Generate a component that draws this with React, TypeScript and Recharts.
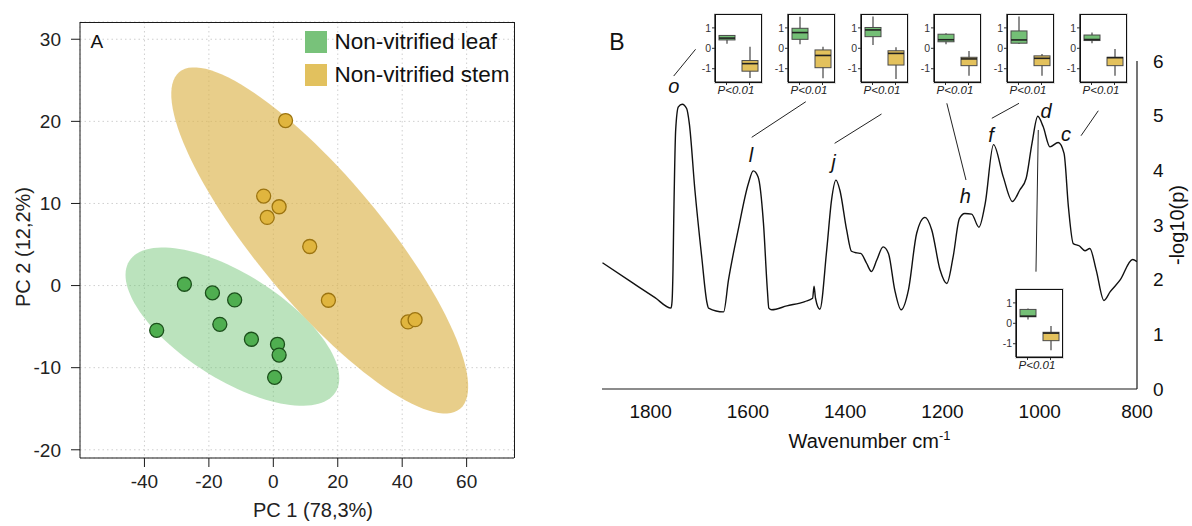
import React from 'react';
import {
  ScatterChart, Scatter, XAxis, YAxis, CartesianGrid, LineChart, Line,
  ReferenceLine, ReferenceDot, ComposedChart, Bar, Label,
} from 'recharts';

const FONT = '"Liberation Sans", Arial, Helvetica, sans-serif';

// ---------------- Panel A data ----------------
const groupNames = ['Non-vitrified leaf', 'Non-vitrified stem'];
const legendColors = ['#78c27a', '#e2c15e'];
const leafPC1 = [-27.6, -18.9, -12.0, -36.2, -16.6, -6.8, 1.3, 1.8, 0.4];
const leafPC2 = [0.16, -0.89, -1.75, -5.45, -4.72, -6.54, -7.15, -8.46, -11.18];
const stemPC1 = [3.8, -3.0, 1.8, -1.9, 11.3, 17.1, 41.8, 44.0];
const stemPC2 = [20.1, 10.9, 9.6, 8.3, 4.76, -1.79, -4.43, -4.15];
const pc1Ticks = [-40, -20, 0, 20, 40, 60];
const pc2Ticks = [-20, -10, 0, 10, 20, 30];
// confidence ellipses: [centerX, centerY, majorDx, majorDy, minorDx, minorDy] in data units
const leafEllipseParams = [-12.7, -5.0, 32.0, -8.0, -8.75, -5.38];
const stemEllipseParams = [14.4, 5.5, 43.6, -20.5, -14.9, -4.9];

// ---------------- Panel B data ----------------
const spectrumWn = [1899, 1840, 1791, 1758, 1756, 1754, 1752.6, 1748.5, 1743, 1735, 1726, 1720.5, 1709, 1695, 1684, 1681, 1650, 1640, 1620, 1599, 1589, 1579, 1568, 1560, 1557, 1551, 1520, 1483, 1467, 1464, 1461, 1452, 1438, 1428, 1419, 1411, 1397, 1387, 1376, 1368, 1356, 1346, 1335, 1322, 1311, 1298, 1285, 1270, 1253, 1236, 1222, 1205, 1191, 1178, 1165, 1154, 1140, 1125, 1112, 1095, 1075, 1056, 1041, 1028, 1016, 1004, 993, 979, 962, 950, 941, 931, 919, 907, 897, 884, 868, 855, 835, 809, 800];
const spectrumLogP = [2.31, 1.96, 1.67, 1.48, 1.6, 2.2, 3.03, 4.74, 5.16, 5.21, 5.13, 4.86, 3.64, 2.42, 1.57, 1.48, 1.41, 1.99, 2.91, 3.76, 3.99, 3.88, 3.03, 1.81, 1.48, 1.45, 1.52, 1.60, 1.66, 1.88, 1.66, 1.46, 2.54, 3.46, 3.82, 3.64, 2.91, 2.52, 2.49, 2.48, 2.30, 2.15, 2.36, 2.60, 2.48, 1.81, 1.45, 1.81, 2.85, 3.14, 2.91, 2.18, 1.93, 2.42, 3.12, 3.21, 3.20, 2.96, 3.40, 4.47, 3.88, 3.43, 3.64, 3.85, 4.49, 4.99, 4.80, 4.43, 4.51, 4.31, 3.33, 2.66, 2.62, 2.53, 2.57, 2.18, 1.62, 1.78, 1.99, 2.37, 2.33];
const wnTicks = [1800, 1600, 1400, 1200, 1000, 800];
const logPTicks = [0, 1, 2, 3, 4, 5, 6];

const peakLetters = ['o', 'l', 'j', 'h', 'f', 'd', 'c'];
const peakLabelWn = [1752.6, 1593.6, 1424, 1153, 1100, 987, 946];
const peakLabelP = [5.54, 4.28, 4.16, 3.53, 4.65, 5.09, 4.66];

const connectorWn1 = [1752.6, 1592.2, 1421.7, 1191, 1098.5, 1003, 879.6];
const connectorP1 = [5.725, 4.604, 4.494, 5.226, 4.952, 4.738, 5.09];
const connectorWn2 = [1707.6, 1481, 1325.3, 1151.6, 1042.6, 1007.7, 915.1];
const connectorP2 = [6.214, 5.255, 5.03, 3.823, 5.226, 2.146, 4.633];

// inset boxplots: [min, q1, median, q3, max]
const boxGroups = ['leaf', 'stem'];
const boxColors = ['#74bf76', '#e3c15c'];
const insetLeafStats = [
  [0.22, 0.41, 0.5, 0.63, 0.63],
  [0.2, 0.44, 0.77, 0.98, 1.55],
  [0.16, 0.57, 0.9, 1.02, 1.56],
  [0.2, 0.32, 0.42, 0.69, 0.74],
  [0.21, 0.25, 0.41, 0.85, 1.56],
  [0.25, 0.38, 0.43, 0.65, 0.77],
  [0.19, 0.32, 0.35, 0.68, 0.73],
];
const insetStemStats = [
  [-1.45, -1.12, -0.75, -0.6, 0.08],
  [-1.47, -0.95, -0.35, -0.08, 0.08],
  [-1.5, -0.82, -0.25, -0.12, 0.05],
  [-1.35, -0.85, -0.52, -0.44, -0.13],
  [-1.35, -0.85, -0.49, -0.37, -0.28],
  [-1.35, -0.85, -0.46, -0.44, -0.03],
  [-1.32, -0.85, -0.48, -0.44, -0.13],
];
const insetPLabel = 'P<0.01';
const insetTicks = [-1, 0, 1];
const insetDomain = [-1.65, 1.68];
// layout of the inset boxes (page px)
const insetLeft = [715, 788, 861, 934, 1007, 1080, 1016];
const insetTop = [14, 14, 14, 14, 14, 14, 289];

// ---------------- derived ----------------
const leafPoints = leafPC1.map((x, i) => ({ x, y: leafPC2[i] }));
const stemPoints = stemPC1.map((x, i) => ({ x, y: stemPC2[i] }));
const ellipsePath = (p: number[]) =>
  Array.from({ length: 121 }, (_, i) => {
    const t = (i / 120) * Math.PI * 2;
    return { x: p[0] + p[2] * Math.cos(t) + p[4] * Math.sin(t), y: p[1] + p[3] * Math.cos(t) + p[5] * Math.sin(t) };
  });
const leafEllipse = ellipsePath(leafEllipseParams);
const stemEllipse = ellipsePath(stemEllipseParams);
const spectrum = spectrumWn.map((wn, i) => ({ wn, p: spectrumLogP[i] }));

const AXIS_C = '#1a1a1a';

const PcXTitle = (props: any) => {
  const vb = props.viewBox;
  return (
    <text x={vb.x + vb.width / 2 + 16} y={vb.y + 58.5} textAnchor="middle" fontSize={20} fontFamily={FONT} fill="#222">
      PC 1 (78,3%)
    </text>
  );
};
const PcYTitle = (props: any) => {
  const vb = props.viewBox;
  const x = vb.x + 30;
  const y = vb.y + vb.height / 2 + 7;
  return (
    <text x={x} y={y} transform={`rotate(-90 ${x} ${y})`} textAnchor="middle" fontSize={20} fontFamily={FONT} fill="#222">
      PC 2 (12,2%)
    </text>
  );
};
const WaveTitle = (props: any) => {
  const vb = props.viewBox;
  return (
    <text x={vb.x + vb.width / 2} y={vb.y + 59} textAnchor="middle" fontSize={20} fontFamily={FONT} fill="#111">
      Wavenumber cm<tspan dy={-8} fontSize={13}>-1</tspan>
    </text>
  );
};
const LogPTitle = (props: any) => {
  const vb = props.viewBox;
  const x = vb.x + 47;
  const y = vb.y + vb.height / 2;
  return (
    <text x={x} y={y} transform={`rotate(-90 ${x} ${y})`} textAnchor="middle" fontSize={20} fontFamily={FONT} fill="#111">
      -log10(p)
    </text>
  );
};
const PTitle = (props: any) => {
  const vb = props.viewBox;
  return (
    <text x={vb.x + vb.width / 2 - 2} y={vb.y + 12} textAnchor="middle" fontSize={11.5} fontStyle="italic" fontFamily={FONT} fill="#222">
      {insetPLabel}
    </text>
  );
};

const BoxShape = (props: any) => {
  const { x, y, width, height, payload, index } = props;
  const st: number[] = payload.stats;
  const y0 = Math.min(y, y + height);
  const y1 = Math.max(y, y + height);
  const lo = st[0];
  const hi = st[4];
  const pix = (v: number) => (hi === lo ? y0 : y0 + ((hi - v) / (hi - lo)) * (y1 - y0));
  const cx = x + width / 2;
  return (
    <g>
      <line x1={cx} x2={cx} y1={y0} y2={y1} stroke="#333" strokeWidth={1.1} />
      <rect x={x} y={pix(st[3])} width={width} height={Math.max(1, pix(st[1]) - pix(st[3]))} fill={boxColors[index]} stroke="#4a4a4a" strokeWidth={1} />
      <line x1={x} x2={x + width} y1={pix(st[2])} y2={pix(st[2])} stroke="#222" strokeWidth={1.6} />
    </g>
  );
};

const Inset = ({ k }: { k: number }) => {
  const data = boxGroups.map((g, i) => {
    const st = i === 0 ? insetLeafStats[k] : insetStemStats[k];
    return { g, range: [st[0], st[4]], stats: st };
  });
  return (
    <>
      <div style={{ position: 'absolute', left: insetLeft[k] - 14, top: insetTop[k] - 1 }}>
        <ComposedChart width={61} height={91} data={data} margin={{ top: 1, right: 1, bottom: 0, left: 0 }}>
          <XAxis dataKey="g" height={22} tickSize={3} tickFormatter={() => ''} axisLine={{ stroke: '#111', strokeWidth: 1.2 }} tickLine={{ stroke: '#333' }} label={<Label content={PTitle} />} />
          <YAxis domain={insetDomain} ticks={insetTicks} interval={0} allowDataOverflow width={14} tickSize={3} tickMargin={1} axisLine={{ stroke: '#111', strokeWidth: 1.2 }} tickLine={{ stroke: '#333' }} tick={{ fontSize: 10.5, fill: '#333', fontFamily: FONT }} />
          <Bar dataKey="range" barSize={16} shape={BoxShape} isAnimationActive={false} />
        </ComposedChart>
      </div>
      <div style={{ position: 'absolute', left: insetLeft[k] - 0.5, top: insetTop[k] - 0.5, width: 47, height: 69, boxSizing: 'border-box', border: '1.2px solid #111', boxShadow: '0 0 0 1px rgba(0,0,0,0.12)', pointerEvents: 'none' }} />
    </>
  );
};

const PanelLetter = ({ text, left, top, size }: any) => (
  <div style={{ position: 'absolute', left, top, fontSize: size, lineHeight: 1, fontFamily: FONT, color: '#111' }}>{text}</div>
);

export default function App() {
  return (
    <div style={{ position: 'absolute', left: 0, top: 0, width: 1192, height: 526, background: '#fff', fontFamily: FONT, overflow: 'hidden' }}>
      {/* Panel A */}
      <div style={{ position: 'absolute', left: 0, top: 0 }}>
        <ScatterChart width={530} height={526} margin={{ top: 22, right: 16, bottom: 0, left: 0 }}>
          <CartesianGrid stroke="#cfcfcf" strokeDasharray="1.5 3" />
          <XAxis type="number" dataKey="x" domain={[-60, 74.7]} ticks={pc1Ticks} interval={0} allowDataOverflow height={68}
            tickSize={9} tickMargin={8} axisLine={{ stroke: AXIS_C }} tickLine={{ stroke: AXIS_C }}
            tick={{ fontSize: 19, fill: '#222', fontFamily: FONT }} label={<Label content={PcXTitle} />} />
          <YAxis type="number" dataKey="y" domain={[-21, 32.1]} ticks={pc2Ticks} interval={0} allowDataOverflow width={80}
            tickSize={9} tickMargin={10} axisLine={{ stroke: AXIS_C }} tickLine={{ stroke: AXIS_C }}
            tick={{ fontSize: 19, fill: '#222', fontFamily: FONT }} label={<Label content={PcYTitle} />} />
          <Scatter data={leafEllipse} line={{ fill: '#6fc472', fillOpacity: 0.47, stroke: 'none' }} lineType="joint" shape={() => <g />} isAnimationActive={false} legendType="none" />
          <Scatter data={stemEllipse} line={{ fill: '#dcb44c', fillOpacity: 0.65, stroke: 'none' }} lineType="joint" shape={() => <g />} isAnimationActive={false} legendType="none" />
          <Scatter data={leafPoints} isAnimationActive={false}
            shape={(p: any) => <circle cx={p.cx} cy={p.cy} r={7} fill="#4fae50" stroke="#1b4f1b" strokeWidth={1.3} />} />
          <Scatter data={stemPoints} isAnimationActive={false}
            shape={(p: any) => <circle cx={p.cx} cy={p.cy} r={7} fill="#e0b53e" stroke="#9c7410" strokeWidth={1.3} />} />
        </ScatterChart>
      </div>
      <div style={{ position: 'absolute', left: 80, top: 22, width: 434, height: 1, background: AXIS_C }} />
      <div style={{ position: 'absolute', left: 514, top: 22, width: 1, height: 436, background: AXIS_C }} />
      <PanelLetter text="A" left={90.5} top={32.3} size={19} />
      {groupNames.map((name, i) => (
        <div key={name} style={{ position: 'absolute', left: 305, top: 31 + i * 33, height: 22, display: 'flex', alignItems: 'center' }}>
          <div style={{ width: 21.5, height: 21.5, background: legendColors[i] }} />
          <div style={{ marginLeft: 8, fontSize: 22.5, lineHeight: 1, color: '#111', whiteSpace: 'nowrap' }}>{name}</div>
        </div>
      ))}

      {/* Panel B */}
      <div style={{ position: 'absolute', left: 590, top: 0 }}>
        <LineChart width={602} height={526} data={spectrum} margin={{ top: 61, right: 0, bottom: 67, left: 12 }}>
          <XAxis type="number" dataKey="wn" domain={[800, 1900]} reversed ticks={wnTicks} interval={0} allowDataOverflow height={70}
            tickSize={0} tickLine={false} tickMargin={16} axisLine={{ stroke: AXIS_C, strokeWidth: 1.2 }}
            tick={{ fontSize: 19, fill: '#111', fontFamily: FONT }} label={<Label content={WaveTitle} />} />
          <YAxis orientation="right" domain={[0, 6]} ticks={logPTicks} interval={0} allowDataOverflow width={55}
            tickSize={0} tickLine={false} tickMargin={16} axisLine={{ stroke: AXIS_C, strokeWidth: 1.2 }}
            tick={{ fontSize: 19, fill: '#111', fontFamily: FONT }} label={<Label content={LogPTitle} />} />
          <Line dataKey="p" type="monotone" stroke="#111" strokeWidth={1.4} dot={false} activeDot={false} isAnimationActive={false} />
          {connectorWn1.map((w, i) => (
            <ReferenceLine key={'c' + i} ifOverflow="visible" stroke="#222" strokeWidth={1}
              segment={[{ x: w, y: connectorP1[i] }, { x: connectorWn2[i], y: connectorP2[i] }]} />
          ))}
          {peakLetters.map((t, i) => (
            <ReferenceDot key={'p' + i} x={peakLabelWn[i]} y={peakLabelP[i]} r={1} fill="none" stroke="none" ifOverflow="visible"
              label={{ value: t, position: 'center', fontSize: 20, fontStyle: 'italic', fill: '#111', fontFamily: FONT }} />
          ))}
        </LineChart>
      </div>
      <PanelLetter text="B" left={609.3} top={30.5} size={23} />
      {insetLeft.map((_, k) => <Inset key={k} k={k} />)}
    </div>
  );
}
